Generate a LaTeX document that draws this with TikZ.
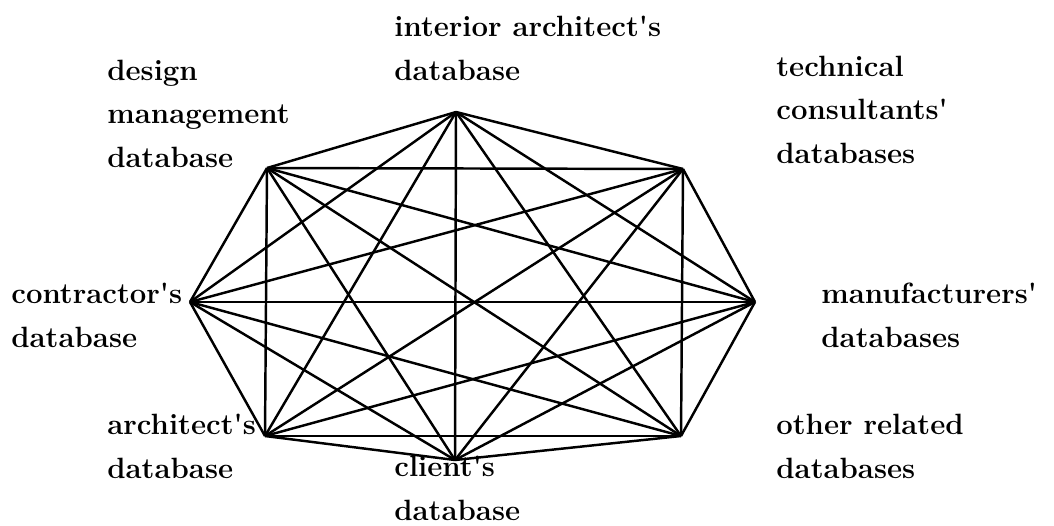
\documentclass[tikz,border=0pt]{standalone}
\usepackage{tikz}
\tikzstyle{dbtext} = [anchor=base west, align=left, inner sep=0pt,
                      font=\fontsize{16.7}{24.6}\selectfont\bfseries]
\tikzstyle{link}   = [line width=1.4pt, line join=round]
\newcommand{\apos}{\textquotesingle}

\begin{document}
\begin{tikzpicture}[x=0.02cm, y=-0.02cm]
    \useasboundingbox (0,0) rectangle (1054,525);

    % ── Corner points ───────────────────────────────────────────────────────
    \coordinate (intarch) at (456,112);
    \coordinate (techcon) at (683,169);
    \coordinate (manuf)   at (755,302);
    \coordinate (other)   at (681,436);
    \coordinate (client)  at (455,460);
    \coordinate (arch)    at (265,436);
    \coordinate (contr)   at (190,302);
    \coordinate (desman)  at (267,168);

    % ── Every database linked to every other ────────────────────────────────
    \foreach \t in {techcon,manuf,other,client,arch,contr,desman}
        \draw [link] (intarch) -- (\t);
    \foreach \t in {manuf,other,client,arch,contr,desman}
        \draw [link] (techcon) -- (\t);
    \foreach \t in {other,client,arch,contr,desman}
        \draw [link] (manuf) -- (\t);
    \foreach \t in {client,arch,contr,desman}
        \draw [link] (other) -- (\t);
    \foreach \t in {arch,contr,desman}
        \draw [link] (client) -- (\t);
    \foreach \t in {contr,desman}
        \draw [link] (arch) -- (\t);
    \draw [link] (contr) -- (desman);

    % ── Labels (placed at the baseline of their last line) ─────────────────
    \node (intarchlbl) [dbtext] at (394,80)  {interior architect\apos s\\database};
    \node (desmanlbl)  [dbtext] at (107,167) {design\\management\\database};
    \node (techconlbl) [dbtext] at (776,163) {technical\\consultants\apos\\databases};
    \node (contrlbl)   [dbtext] at (11,347)  {contractor\apos s\\database};
    \node (manuflbl)   [dbtext] at (821,347) {manufacturers\apos\\databases};
    \node (archlbl)    [dbtext] at (107,478) {architect\apos s\\database};
    \node (clientlbl)  [dbtext] at (394,520) {client\apos s\\database};
    \node (otherlbl)   [dbtext] at (776,478) {other related\\databases};

\end{tikzpicture}
\end{document}
